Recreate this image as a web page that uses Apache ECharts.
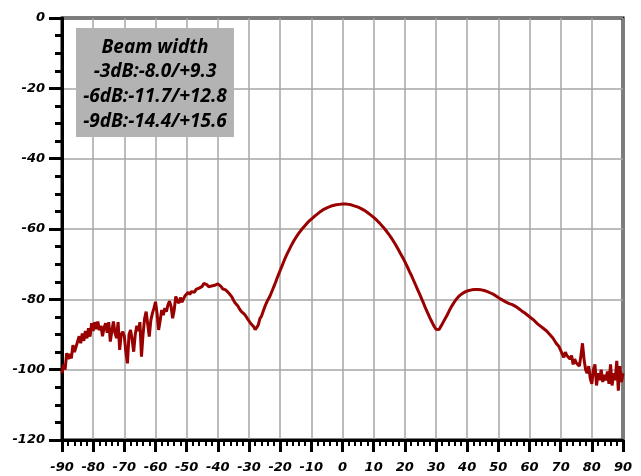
<!DOCTYPE html>
<html>
<head>
<meta charset="utf-8">
<script src="https://cdn.jsdelivr.net/npm/echarts@6/dist/echarts.min.js"></script>
<style>
  html, body { margin: 0; padding: 0; background: #fff; }
  #chart { width: 641px; height: 476px; }
</style>
</head>
<body>
<div id="chart"></div>
<script>
// angle grid: -90 .. 90 deg, one sample every 0.5 deg
const angleStart = -90;
const angleStep = 0.5;

// measured level (dB), 10 samples per row = 5 deg
const levels = [
  -101, -98.5, -100, -95.3, -97, -95.5, -96.8, -93, -95, -93.5,        // -90
  -93.5, -90.5, -92.5, -89.7, -91.8, -89, -91.1, -88.2, -90.6, -86.8,  // -85
  -89, -86.5, -88.5, -86.3, -88.8, -87.5, -90.5, -88, -86.8, -89.5,    // -80
  -86.5, -92, -89, -86.3, -89.5, -91, -86.5, -94.4, -90, -89.2,        // -75
  -90.5, -95, -98.2, -90, -88.7, -91.5, -94.9, -90, -87.5, -89,        // -70
  -86.5, -96.3, -90, -85.5, -83.5, -87, -90.6, -86, -84, -82.5,        // -65
  -80.7, -84, -88.7, -86, -83, -84.5, -82.5, -83.5, -81.6, -80.5,      // -60
  -82, -85.4, -83, -79.2, -80.5, -81.1, -79.5, -80.8, -79.8, -79,      // -55
  -78.8, -78, -78.6, -77.8, -77.4, -78, -77.2, -77.6, -76.8, -77.3,    // -50
  -76.3, -75.5, -75.3, -75.8, -76.4, -76.6, -76.2, -76.5, -76, -75.8,  // -45
  -75.6, -76, -76.3, -77, -77.5, -77.3, -77.6, -78.2, -78.5, -79.3,    // -40
  -80.2, -81, -81.5, -82, -82.8, -83.4, -83.7, -84.2, -84.8, -85.5,    // -35
  -86, -86.8, -87.3, -87.8, -88.6, -88, -87.2, -85.5, -84.8, -83.5,    // -30
  -82.3, -81.2, -80.2, -79.5, -78.5, -77.4, -76.3, -75.2, -74, -72.9,  // -25
  -71.8, -70.7, -69.6, -68.5, -67.5, -66.6, -65.7, -64.8, -64, -63.2,  // -20
  -62.5, -61.8, -61.2, -60.6, -60, -59.5, -59, -58.5, -58, -57.6,      // -15
  -57.2, -56.8, -56.4, -56, -55.7, -55.3, -55, -54.7, -54.4, -54.2,    // -10
  -54, -53.8, -53.6, -53.4, -53.3, -53.2, -53.1, -53, -53, -52.9,      // -5
  -52.9, -52.9, -52.9, -53, -53, -53.1, -53.2, -53.3, -53.5, -53.6,    // 0
  -53.8, -54, -54.2, -54.4, -54.7, -55, -55.3, -55.6, -56, -56.3,      // 5
  -56.7, -57.1, -57.5, -58, -58.4, -58.9, -59.4, -59.9, -60.5, -61.1,  // 10
  -61.7, -62.3, -63, -63.7, -64.4, -65.2, -66, -66.8, -67.6, -68.4,    // 15
  -69.3, -70.2, -71.1, -72.1, -73, -74, -75, -76, -77, -78,            // 20
  -79, -80.1, -81.1, -82.2, -83.2, -84.2, -85.2, -86.1, -87, -87.8,    // 25
  -88.5, -89, -88.6, -87.8, -87, -86.2, -85.4, -84.6, -83.7, -82.8,    // 30
  -82, -81.3, -80.6, -80, -79.5, -79, -78.6, -78.3, -78, -77.8,        // 35
  -77.6, -77.5, -77.4, -77.3, -77.2, -77.2, -77.2, -77.2, -77.3, -77.3,// 40
  -77.4, -77.5, -77.6, -77.8, -78, -78.2, -78.4, -78.6, -78.9, -79.2,  // 45
  -79.5, -79.8, -80.1, -80.3, -80.5, -80.8, -81, -81.2, -81.4, -81.5,  // 50
  -81.7, -82, -82.3, -82.6, -83, -83.3, -83.6, -83.9, -84.2, -84.6,    // 55
  -85, -85.3, -85.6, -86, -86.4, -86.9, -87.2, -87.6, -88, -88.3,      // 60
  -88.7, -89, -89.4, -90, -90.5, -91, -91.5, -92.4, -92.8, -93.5,      // 65
  -94.5, -95.5, -96.5, -95, -96, -95.5, -97, -96, -98.5, -97,          // 70
  -98, -97.5, -99, -96, -92.5, -97, -100, -101, -99, -102.5,           // 75
  -104, -100, -98.5, -104.5, -101, -103, -100, -103.5, -101.5, -103,   // 80
  -100.5, -104, -98.5, -104.5, -101, -103, -97.5, -106, -99, -103.5,   // 85
  -101                                                                 // 90
];

const beamTitle = 'Beam width';
const beamLines = ['-3dB:-8.0/+9.3', '-6dB:-11.7/+12.8', '-9dB:-14.4/+15.6'];

const points = levels.map((v, i) => [angleStart + i * angleStep, v]);

// tick label style, applied through rich text
const tickRich = {
  t: {
    color: '#000',
    fontFamily: 'DejaVu Sans',
    fontStyle: 'italic',
    fontWeight: 'bold',
    fontSize: 13
  }
};

const myChart = echarts.init(document.getElementById('chart'));
const option = {
  backgroundColor: '#fff',
  animation: false,
  grid: {
    left: 62, right: 18, top: 18, bottom: 36,
    show: true,
    borderColor: '#000',
    borderWidth: 3
  },
  xAxis: {
    type: 'value',
    min: -90, max: 90, interval: 10,
    axisLine: { show: true, onZero: false, lineStyle: { color: '#000', width: 3 } },
    axisTick: { show: true, length: 12, lineStyle: { color: '#000', width: 3 } },
    minorTick: { show: true, splitNumber: 5, length: 6, lineStyle: { color: '#000', width: 2 } },
    axisLabel: {
      margin: 21,
      formatter: '{t|{value}}',
      rich: tickRich
    },
    splitLine: { show: true, lineStyle: { color: '#a6a6a6', width: 1.5 } }
  },
  yAxis: {
    type: 'value',
    min: -120, max: 0, interval: 20,
    axisLine: { show: true, onZero: false, lineStyle: { color: '#000', width: 3 } },
    axisTick: { show: true, length: 13, lineStyle: { color: '#000', width: 3 } },
    minorTick: { show: true, splitNumber: 4, length: 7, lineStyle: { color: '#000', width: 3 } },
    axisLabel: {
      margin: 17,
      formatter: '{t|{value}}',
      rich: tickRich
    },
    splitLine: { show: true, lineStyle: { color: '#a6a6a6', width: 1.5 } }
  },
  graphic: [
    {
      type: 'rect',
      x: 76, y: 28,
      shape: { width: 158, height: 109 },
      style: { fill: '#b3b3b3' },
      z: 100
    },
    {
      type: 'text',
      x: 155, y: 35,
      style: {
        text: [beamTitle].concat(beamLines).join('\n'),
        fill: '#000',
        font: 'italic bold 19px "Open Sans"',
        align: 'center',
        verticalAlign: 'top',
        lineHeight: 24.7
      },
      z: 101
    }
  ],
  series: [
    {
      type: 'line',
      data: points,
      showSymbol: false,
      smooth: false,
      lineStyle: { color: '#990000', width: 3 },
      itemStyle: { color: '#990000' }
    }
  ]
};
myChart.setOption(option);
window.addEventListener('resize', function() {
  myChart.resize();
});
</script>
</body>
</html>
